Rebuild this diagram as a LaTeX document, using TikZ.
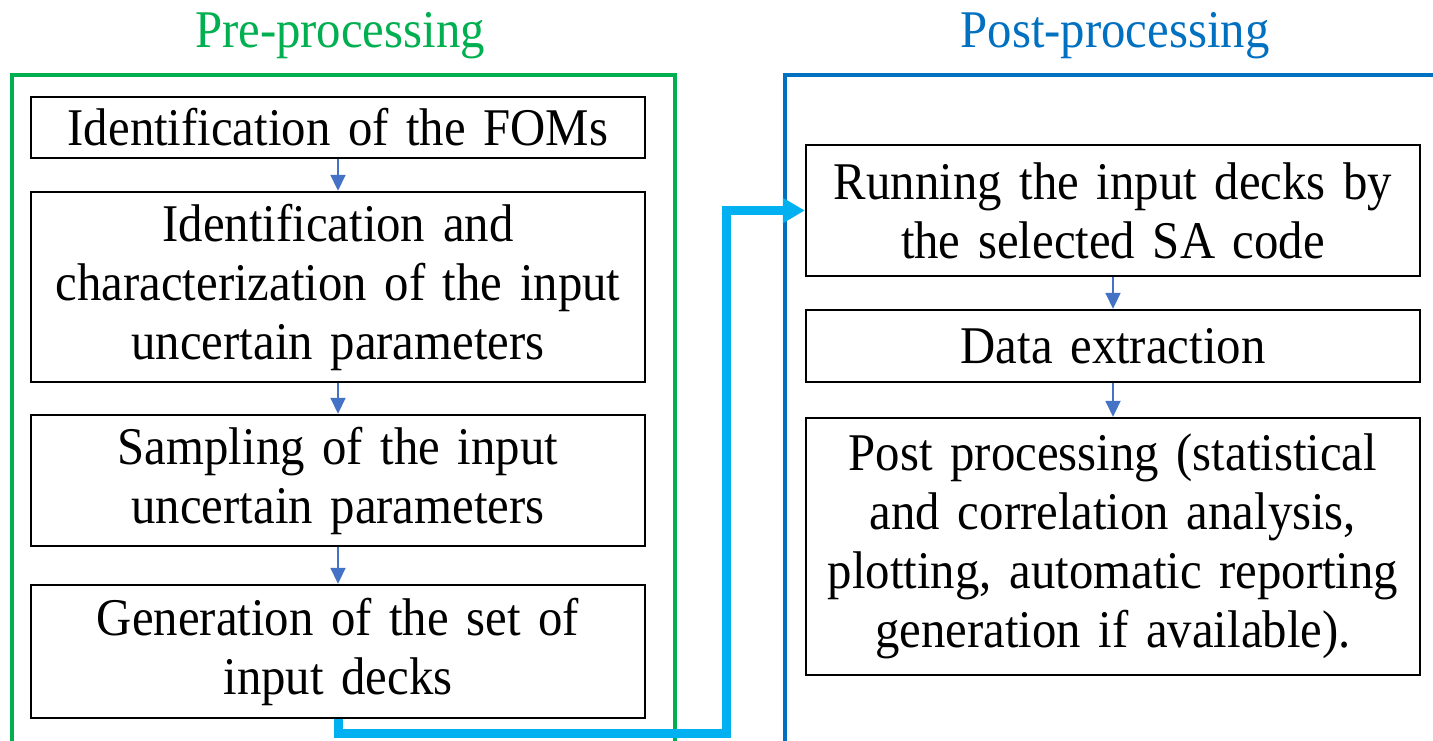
\documentclass[tikz,border=0pt]{standalone}
\usepackage{fontspec}
\setmainfont{Liberation Serif}[FakeStretch=0.92,WordSpace=0.8]
\usepackage{tikz}
\usetikzlibrary{calc}
\usetikzlibrary{arrows.meta}

\definecolor{pregreen}{HTML}{00B050}
\definecolor{postblue}{HTML}{0070C0}
\definecolor{linkcyan}{HTML}{00B0F0}
\definecolor{steparrow}{HTML}{4472C4}

\tikzset{
  stepbox/.style={draw=black, line width=1.2pt, fill=white, align=center,
    text width=300pt, minimum width=307pt, inner sep=0pt,
    font=\fontsize{26.5}{29.5}\selectfont},
  next/.style={draw=steparrow, line width=0.9pt,
    -{Triangle[length=8pt,width=7.5pt]}},
  title/.style={anchor=base, font=\fontsize{26.5}{29.5}\selectfont}
}

\begin{document}
\begin{tikzpicture}[x=0.5pt,y=-0.5pt]
		\useasboundingbox (0,0) rectangle (1433,740);
		\clip (0,0) rectangle (1433,740);
		\fill[white] (0,0) rectangle (1433,740);

		% frames
		\draw[pregreen, line width=1.6pt] (12,75) rectangle (675,780);
		\draw[postblue, line width=1.6pt] (785,75) rectangle (1460,780);
		\node[title, text=pregreen] (preTitle) at (340,47) {Pre-processing};
		\node[title, text=postblue] (postTitle) at (1115,47) {Post-processing};

		% pre-processing steps
		\node[stepbox, minimum height=30.5pt] (FOM) at (338,127.5) {Identification of the FOMs};
		\node[stepbox, minimum height=95pt] (Char) at (338,287) {Identification and\\ characterization of the input\\ uncertain parameters};
		\node[stepbox, minimum height=65.5pt] (Samp) at (338,480.5) {Sampling of the input\\ uncertain parameters};
		\node[stepbox, minimum height=66.5pt] (Gen) at (338,651.5) {Generation of the set of\\ input decks};

		% post-processing steps
		\node[stepbox, minimum height=65.5pt] (Run) at (1113,210.5) {Running the input decks by\\ the selected SA code};
		\node[stepbox, minimum height=36pt] (Extr) at (1113,346) {Data extraction};
		\node[stepbox, minimum height=128.5pt] (Post) at (1113,546.5) {Post processing (statistical\\ and correlation analysis,\\ plotting, automatic reporting\\ generation if available).};

		\draw[next] (FOM) -- (Char);
		\draw[next] (Char) -- (Samp);
		\draw[next] (Samp) -- (Gen);
		\draw[next] (Run) -- (Extr);
		\draw[next] (Extr) -- (Post);

		% link between the two stages
		\coordinate (turn) at (726,733);
		\draw[linkcyan, line width=4.5pt, -{Triangle[length=11pt,width=12pt]}]
			(Gen.south) |- (turn) |- (Run.west);
\end{tikzpicture}
\end{document}
